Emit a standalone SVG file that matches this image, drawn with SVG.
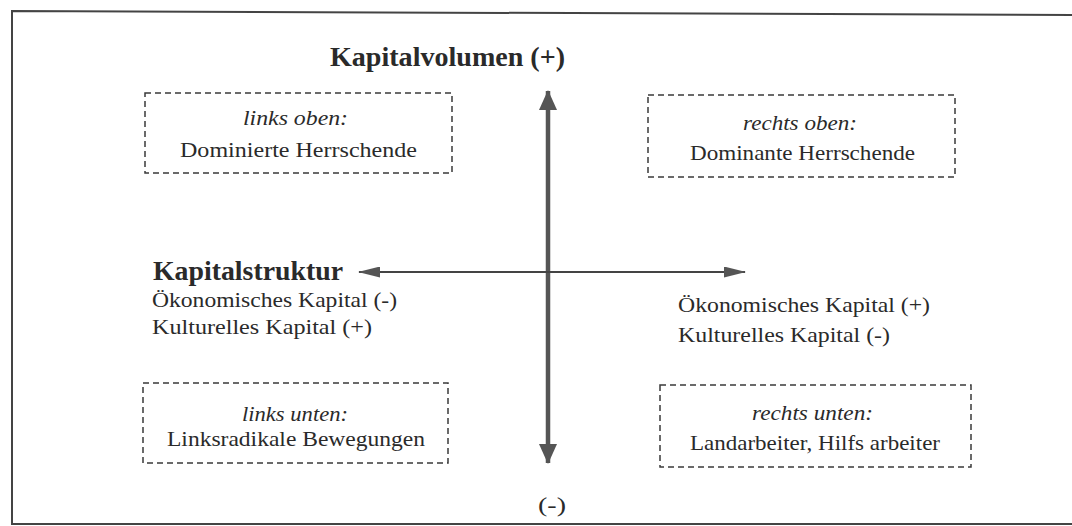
<svg xmlns="http://www.w3.org/2000/svg" width="1072" height="526" viewBox="0 0 1072 526">
<style>
text{font-family:"Liberation Serif","Times New Roman",serif;fill:#2a2a2a;}
.t{font-size:22px;}
.i{font-size:22px;font-style:italic;}
.b{font-size:27px;font-weight:bold;}
.box{fill:none;stroke:#3a3a3a;stroke-width:1.5;stroke-dasharray:6,4;}
</style>
<defs>
<marker id="av" viewBox="0 0 20 18" refX="19" refY="9" markerWidth="20" markerHeight="18" markerUnits="userSpaceOnUse" orient="auto-start-reverse">
<path d="M0,0 L20,9 L0,18 z" fill="#555"/>
</marker>
<marker id="ah" viewBox="0 0 22 11" refX="21" refY="5.5" markerWidth="22" markerHeight="11" markerUnits="userSpaceOnUse" orient="auto-start-reverse">
<path d="M0,0 L22,5.5 L0,11 z" fill="#555"/>
</marker>
</defs>
<polyline points="1072,15 12,11 12,524 1072,524" fill="none" stroke="#444" stroke-width="2"/>
<g id="connectors">
<line x1="548" y1="91" x2="548" y2="463" stroke="#555" stroke-width="4.5" marker-start="url(#av)" marker-end="url(#av)"/>
<line x1="359" y1="272" x2="745" y2="272" stroke="#444" stroke-width="2" marker-start="url(#ah)" marker-end="url(#ah)"/>
</g>
<g id="title"><text class="b" x="330" y="66" textLength="235" lengthAdjust="spacingAndGlyphs">Kapitalvolumen (+)</text></g>
<g id="bottom"><text class="t" x="538" y="512" textLength="28" lengthAdjust="spacingAndGlyphs">(-)</text></g>
<g id="links-oben">
<rect class="box" x="145" y="93" width="307" height="80"/>
<text class="i" x="243" y="125" textLength="105" lengthAdjust="spacingAndGlyphs">links oben:</text>
<text class="t" x="180" y="157" textLength="237" lengthAdjust="spacingAndGlyphs">Dominierte Herrschende</text>
</g>
<g id="rechts-oben">
<rect class="box" x="648" y="95" width="307" height="82"/>
<text class="i" x="743" y="130" textLength="114" lengthAdjust="spacingAndGlyphs">rechts oben:</text>
<text class="t" x="690" y="160" textLength="225" lengthAdjust="spacingAndGlyphs">Dominante Herrschende</text>
</g>
<g id="kapitalstruktur">
<text class="b" x="153" y="280" textLength="190" lengthAdjust="spacingAndGlyphs">Kapitalstruktur</text>
<text class="t" x="152" y="307" textLength="245" lengthAdjust="spacingAndGlyphs">Ökonomisches Kapital (-)</text>
<text class="t" x="152" y="334" textLength="220" lengthAdjust="spacingAndGlyphs">Kulturelles Kapital (+)</text>
</g>
<g id="rechts">
<text class="t" x="678" y="312" textLength="252" lengthAdjust="spacingAndGlyphs">Ökonomisches Kapital (+)</text>
<text class="t" x="678" y="342" textLength="212" lengthAdjust="spacingAndGlyphs">Kulturelles Kapital (-)</text>
</g>
<g id="links-unten">
<rect class="box" x="143" y="383" width="305" height="80"/>
<text class="i" x="242" y="421" textLength="106" lengthAdjust="spacingAndGlyphs">links unten:</text>
<text class="t" x="167" y="446" textLength="258" lengthAdjust="spacingAndGlyphs">Linksradikale Bewegungen</text>
</g>
<g id="rechts-unten">
<rect class="box" x="660" y="385" width="311" height="82"/>
<text class="i" x="752" y="420" textLength="121" lengthAdjust="spacingAndGlyphs">rechts unten:</text>
<text class="t" x="690" y="450" textLength="250" lengthAdjust="spacingAndGlyphs">Landarbeiter, Hilfs arbeiter</text>
</g>
</svg>
